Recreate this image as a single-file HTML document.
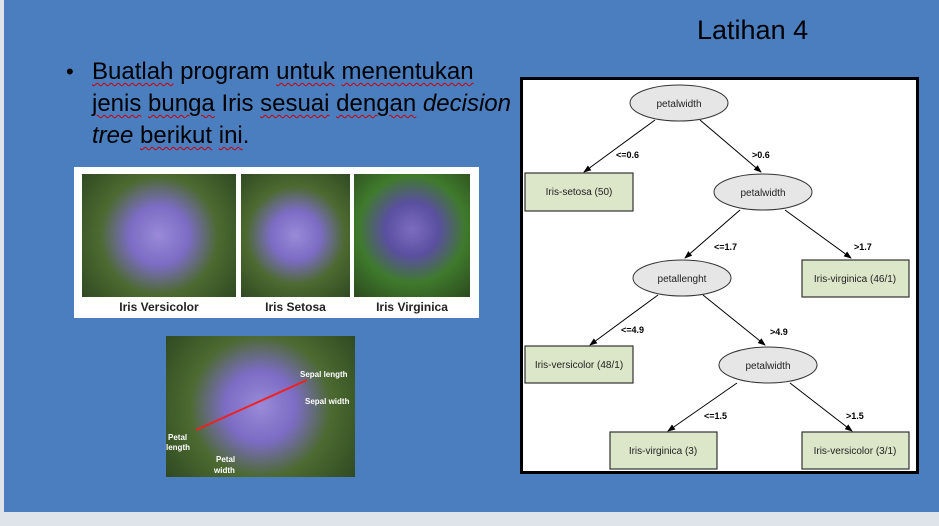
<!DOCTYPE html>
<html><head><style>
body{margin:0;width:939px;height:526px;overflow:hidden;background:#dfe3ea;font-family:"Liberation Sans",sans-serif;position:relative}
.slide{position:absolute;left:4px;top:0;width:935px;height:512px;background:#4a7ebf}
.t{position:absolute;color:#000}
.u{text-decoration:underline wavy #c00;text-decoration-thickness:1px;text-underline-offset:3px}
.ph{position:absolute;background:radial-gradient(circle at 50% 50%,#9a8ad8 0,#7c6cc4 30%,#4c6a30 60%,#2f4a22 100%)}
.cap{position:absolute;font-weight:bold;font-size:12px;color:#222;text-align:center}
</style></head><body>
<div class="slide"></div>
<div class="t" style="left:697px;top:15px;font-size:27px">Latihan 4</div>
<div class="t" style="left:66px;top:56px;font-size:22px;line-height:32px">•</div>
<div class="t" style="left:92px;top:56px;font-size:24px;line-height:32px;width:445px;white-space:nowrap"><span class="u">Buatlah</span> program <span class="u">untuk</span> <span class="u">menentukan</span><br><span class="u">jenis</span> <span class="u">bunga</span> Iris <span class="u">sesuai</span> <span class="u">dengan</span> <i>decision</i><br><i>tree</i> <span class="u">berikut</span> <span class="u">ini</span>.</div>

<div style="position:absolute;left:74px;top:167px;width:405px;height:151px;background:#fff"></div>
<div class="ph" style="left:82px;top:174px;width:154px;height:123px"></div>
<div class="ph" style="left:241px;top:174px;width:109px;height:123px"></div>
<div class="ph" style="left:354px;top:174px;width:116px;height:123px;background:radial-gradient(circle at 50% 45%,#7d6cc0 0,#5a4fa0 30%,#3f7a2c 60%,#2c4a1e 100%)"></div>
<div class="cap" style="left:82px;top:300px;width:154px">Iris Versicolor</div>
<div class="cap" style="left:241px;top:300px;width:109px">Iris Setosa</div>
<div class="cap" style="left:354px;top:300px;width:116px">Iris Virginica</div>
<div class="ph" style="left:166px;top:336px;width:189px;height:141px"></div>
<svg style="position:absolute;left:0;top:0" width="939" height="526">
<line x1="196" y1="430" x2="307" y2="380" stroke="#e22" stroke-width="2"/>
<g fill="#fff" font-size="8" font-weight="bold" font-family="Liberation Sans"><text x="300" y="377">Sepal length</text><text x="305" y="404">Sepal width</text><text x="168" y="440">Petal</text><text x="166" y="450">length</text><text x="216" y="462">Petal</text><text x="214" y="473">width</text></g>
</svg>

<div style="position:absolute;left:520px;top:77px;width:399px;height:397px;background:#000"></div>
<svg style="position:absolute;left:523px;top:80px" width="393" height="391" viewBox="523 80 393 391">
<rect x="523" y="80" width="393" height="391" fill="#fff"/>
<defs><marker id="a" markerWidth="8" markerHeight="8" refX="7" refY="4" orient="auto"><path d="M0,1 L8,4 L0,7z" fill="#000"/></marker></defs>
<g stroke="#000" stroke-width="1" marker-end="url(#a)">
<line x1="655" y1="120" x2="584" y2="172"/><line x1="700" y1="120" x2="761" y2="172"/>
<line x1="740" y1="210" x2="685" y2="258"/><line x1="785" y1="210" x2="851" y2="258"/>
<line x1="658" y1="295" x2="590" y2="345"/><line x1="703" y1="295" x2="765" y2="345"/>
<line x1="737" y1="383" x2="668" y2="431"/><line x1="790" y1="383" x2="852" y2="431"/>
</g>
<g fill="#e6e6e6" stroke="#333">
<ellipse cx="679" cy="103" rx="49" ry="18"/><ellipse cx="763" cy="192" rx="49" ry="18"/>
<ellipse cx="682" cy="278" rx="49" ry="18"/><ellipse cx="768" cy="365" rx="49" ry="18"/>
</g>
<g fill="#dce6c8" stroke="#333" stroke-width="1.2">
<rect x="525" y="173" width="108" height="38"/><rect x="802" y="260" width="107" height="37"/>
<rect x="525" y="346" width="108" height="37"/><rect x="610" y="432" width="107" height="37"/><rect x="802" y="432" width="107" height="37"/>
</g>
<g font-size="10" font-family="Liberation Sans" text-anchor="middle" fill="#222">
<text x="679" y="107">petalwidth</text><text x="763" y="196">petalwidth</text><text x="682" y="282">petallenght</text><text x="768" y="369">petalwidth</text>
<text x="579" y="195">Iris-setosa (50)</text><text x="855" y="282">Iris-virginica (46/1)</text><text x="579" y="368">Iris-versicolor (48/1)</text><text x="663" y="454">Iris-virginica (3)</text><text x="855" y="454">Iris-versicolor (3/1)</text>
</g>
<g font-size="9" font-weight="bold" font-family="Liberation Sans" fill="#000">
<text x="616" y="158">&lt;=0.6</text><text x="752" y="158">&gt;0.6</text>
<text x="714" y="250">&lt;=1.7</text><text x="854" y="250">&gt;1.7</text>
<text x="621" y="333">&lt;=4.9</text><text x="770" y="335">&gt;4.9</text>
<text x="704" y="419">&lt;=1.5</text><text x="846" y="419">&gt;1.5</text>
</g>
</svg>
</body></html>
